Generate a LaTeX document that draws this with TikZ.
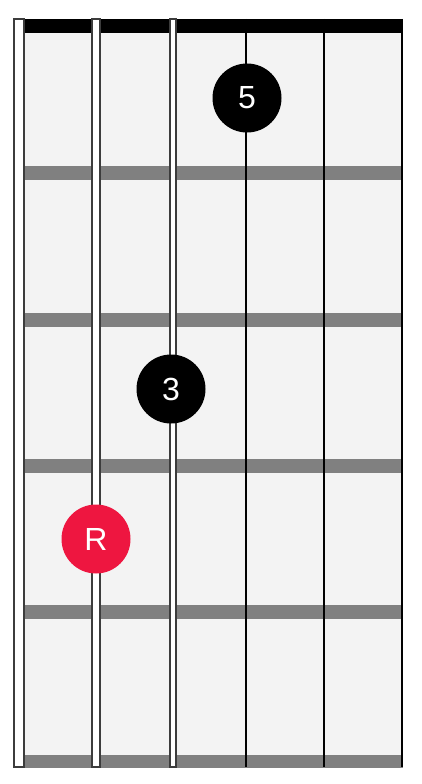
\documentclass[tikz,border=0pt]{standalone}
\usepackage{fontspec}
\setmainfont{Liberation Sans}
\usepackage{tikz}

\definecolor{boardgray}{RGB}{243,243,243}
\definecolor{fretgray}{RGB}{128,128,128}
\definecolor{stringgray}{RGB}{60,60,60}
\definecolor{rootred}{RGB}{238,22,64}

\tikzset{
    dot/.style={circle, fill=black, text=white, minimum size=69pt, inner sep=0pt,
        font=\fontsize{32}{32}\selectfont},
    rootdot/.style={dot, fill=rootred},
    woundstring/.style={draw=stringgray, fill=white, line width=1.3pt},
    plainstring/.style={black, line width=2.2pt}
}

\begin{document}
\begin{tikzpicture}[x=1pt, y=-1pt]
    \useasboundingbox (0,0) rectangle (422,784);

    % Fretboard
    \fill[boardgray] (24,33) rectangle (403,762);

    % Nut
    \fill[black] (24,19) rectangle (403,33);

    % Frets
    \fill[fretgray] (24,166) rectangle (403,180);
    \fill[fretgray] (24,313) rectangle (403,327);
    \fill[fretgray] (24,459) rectangle (403,473);
    \fill[fretgray] (24,605) rectangle (403,619);
    \fill[fretgray] (24,755) rectangle (403,768);

    % Wound strings
    \draw[woundstring] (14,19) rectangle (24,767);
    \draw[woundstring] (92,19) rectangle (100,767);
    \draw[woundstring] (170,19) rectangle (176,767);

    % Plain strings
    \draw[plainstring] (246,19) -- (246,767);
    \draw[plainstring] (324,19) -- (324,767);
    \draw[plainstring] (402,19) -- (402,767);

    % Finger dots
    \node[dot] (fifth) at (247,98) {5};
    \node[dot] (third) at (171,389) {3};
    \node[rootdot] (root) at (96,539) {R};
\end{tikzpicture}
\end{document}
